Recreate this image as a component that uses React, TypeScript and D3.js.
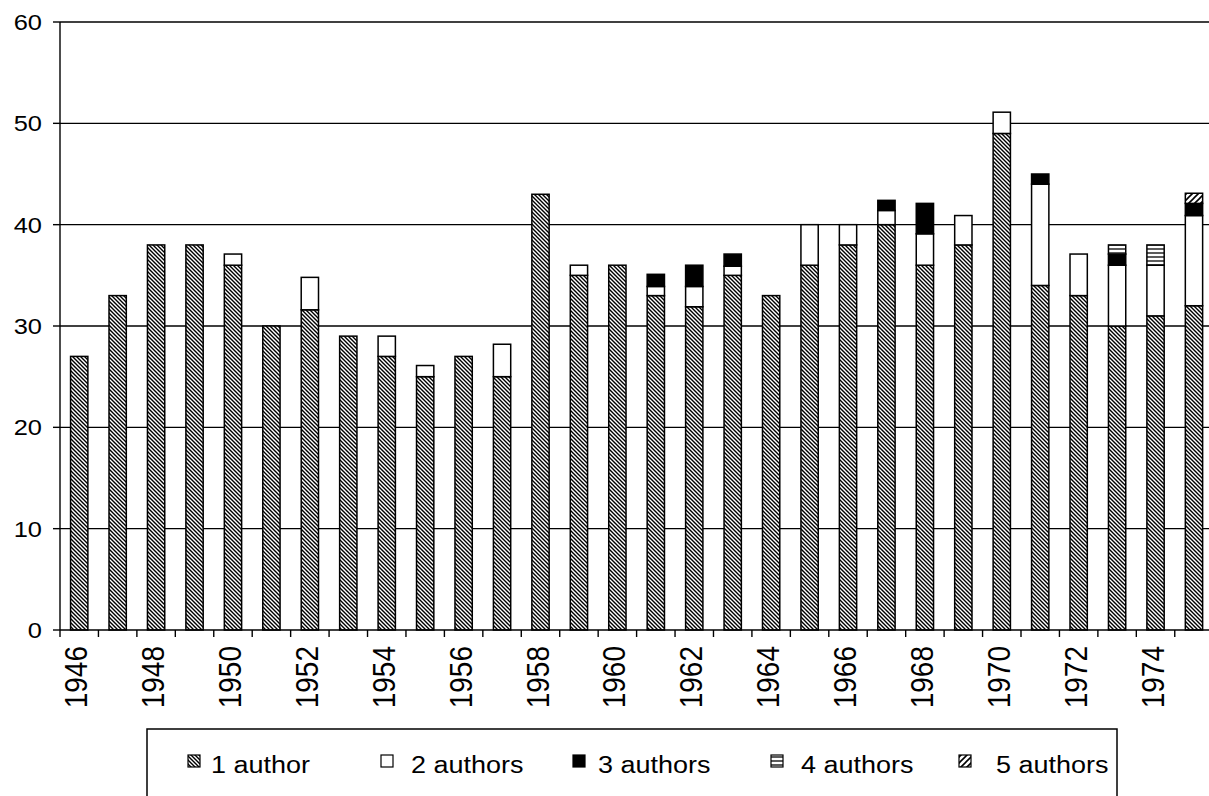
import React from "react";
import * as d3 from "d3";

const years = [
  "1946", "1947", "1948", "1949", "1950", "1951", "1952", "1953", "1954", "1955",
  "1956", "1957", "1958", "1959", "1960", "1961", "1962", "1963", "1964", "1965",
  "1966", "1967", "1968", "1969", "1970", "1971", "1972", "1973", "1974", "1975",
];
const oneAuthor = [27, 33, 38, 38, 36, 30, 31.6, 29, 27, 25, 27, 25, 43, 35, 36, 33, 31.9, 35, 33, 36, 38, 40, 36, 38, 49, 34, 33, 30, 31, 32];
const twoAuthors = [0, 0, 0, 0, 1.1, 0, 3.2, 0, 2, 1.1, 0, 3.2, 0, 1, 0, 0.9, 2, 0.9, 0, 4, 2, 1.4, 3.1, 2.9, 2.1, 10, 4.1, 6, 5, 8.9];
const threeAuthors = [0, 0, 0, 0, 0, 0, 0, 0, 0, 0, 0, 0, 0, 0, 0, 1.2, 2.1, 1.2, 0, 0, 0, 1, 3, 0, 0, 1, 0, 1.1, 0, 1.2];
const fourAuthors = [0, 0, 0, 0, 0, 0, 0, 0, 0, 0, 0, 0, 0, 0, 0, 0, 0, 0, 0, 0, 0, 0, 0, 0, 0, 0, 0, 0.9, 2, 0];
const fiveAuthors = [0, 0, 0, 0, 0, 0, 0, 0, 0, 0, 0, 0, 0, 0, 0, 0, 0, 0, 0, 0, 0, 0, 0, 0, 0, 0, 0, 0, 0, 1];
const seriesNames = ["1 author", "2 authors", "3 authors", "4 authors", "5 authors"];
const yTicks = [0, 10, 20, 30, 40, 50, 60];
const labeledYears = ["1946", "1948", "1950", "1952", "1954", "1956", "1958", "1960", "1962", "1964", "1966", "1968", "1970", "1972", "1974"];

const FONT = "'Liberation Sans', Arial, sans-serif";
const fills = ["url(#p1)", "#fff", "#000", "url(#p4)", "url(#p5)"];

export default function App() {
  const left = 60;
  const top = 22;
  const bottom = 630;
  const band = 38.44;
  const right = left + band * years.length;

  const x = d3.scaleBand<string>().domain(years).range([left, right]).paddingInner(0.55).paddingOuter(0.275);
  const y = d3.scaleLinear().domain([0, 60]).range([bottom, top]);

  const table = years.map((yr, i) => ({
    year: yr,
    s0: oneAuthor[i],
    s1: twoAuthors[i],
    s2: threeAuthors[i],
    s3: fourAuthors[i],
    s4: fiveAuthors[i],
  }));
  const keys = ["s0", "s1", "s2", "s3", "s4"];
  const stacked = d3.stack<any>().keys(keys)(table);

  const legendIconX = [188, 381, 573, 771, 959];
  const legendTextX = [211, 411, 598, 801, 996];

  return (
    <svg width={1209} height={796} style={{ position: "absolute", left: 0, top: 0, background: "#fff" }}>
      <defs>
        <pattern id="p1" patternUnits="userSpaceOnUse" width={4} height={4}>
          <rect width={4} height={4} fill="#fff" />
          <path d="M-1,-1 L5,5 M-1,3 L1,5 M3,-1 L5,1" stroke="#000" strokeWidth={1.4} />
        </pattern>
        <pattern id="p4" patternUnits="userSpaceOnUse" width={4} height={4}>
          <rect width={4} height={4} fill="#fff" />
          <path d="M0,1 L4,1" stroke="#333" strokeWidth={1.6} />
        </pattern>
        <pattern id="p5" patternUnits="userSpaceOnUse" width={6} height={6}>
          <rect width={6} height={6} fill="#fff" />
          <path d="M-1,7 L7,-1 M-1,1 L1,-1 M5,7 L7,5" stroke="#000" strokeWidth={1.6} />
        </pattern>
      </defs>

      {yTicks.filter((t) => t > 0).map((t) => (
        <line key={t} x1={left} x2={1209} y1={y(t)} y2={y(t)} stroke="#000" strokeWidth={1.4} />
      ))}

      {stacked.map((layer, si) => (
        <g key={si}>
          {layer.map((d, i) => {
            const h = y(d[0]) - y(d[1]);
            if (h <= 0.01) return null;
            return (
              <rect
                key={i}
                x={x(years[i])}
                y={y(d[1])}
                width={x.bandwidth()}
                height={h}
                fill={fills[si]}
                stroke="#000"
                strokeWidth={1.5}
              />
            );
          })}
        </g>
      ))}

      <line x1={left} x2={left} y1={top} y2={bottom} stroke="#000" strokeWidth={1.4} />
      <line x1={left} x2={1209} y1={bottom} y2={bottom} stroke="#000" strokeWidth={1.4} />
      {yTicks.map((t) => (
        <g key={t}>
          <line x1={left - 7} x2={left} y1={y(t)} y2={y(t)} stroke="#000" strokeWidth={1.4} />
          <text
            transform={`translate(42,${y(t)}) scale(1.13,1)`}
            textAnchor="end"
            dy="0.36em"
            fontFamily={FONT}
            fontSize={22.5}
            fill="#000"
          >
            {t}
          </text>
        </g>
      ))}
      {years.map((yr, i) => {
        const bx = left + band * i;
        return <line key={yr} x1={bx} x2={bx} y1={bottom} y2={bottom + 7} stroke="#000" strokeWidth={1.4} />;
      })}
      {labeledYears.map((yr) => {
        const cx = (x(yr) as number) + x.bandwidth() / 2 - 3;
        return (
          <text
            key={yr}
            transform={`translate(${cx},646) scale(1.1,1) rotate(-90)`}
            textAnchor="end"
            dy="0.36em"
            fontFamily={FONT}
            fontSize={28}
            fill="#000"
          >
            {yr}
          </text>
        );
      })}

      <rect x={147} y={729} width={970} height={120} fill="#fff" stroke="#000" strokeWidth={1.5} />
      {seriesNames.map((name, i) => (
        <g key={name}>
          <rect x={legendIconX[i]} y={755} width={12} height={12} fill={fills[i]} stroke="#000" strokeWidth={1.2} />
          <text
            transform={`translate(${legendTextX[i]},773) scale(1.1,1)`}
            fontFamily={FONT}
            fontSize={24.5}
            fill="#000"
          >
            {name}
          </text>
        </g>
      ))}
    </svg>
  );
}
